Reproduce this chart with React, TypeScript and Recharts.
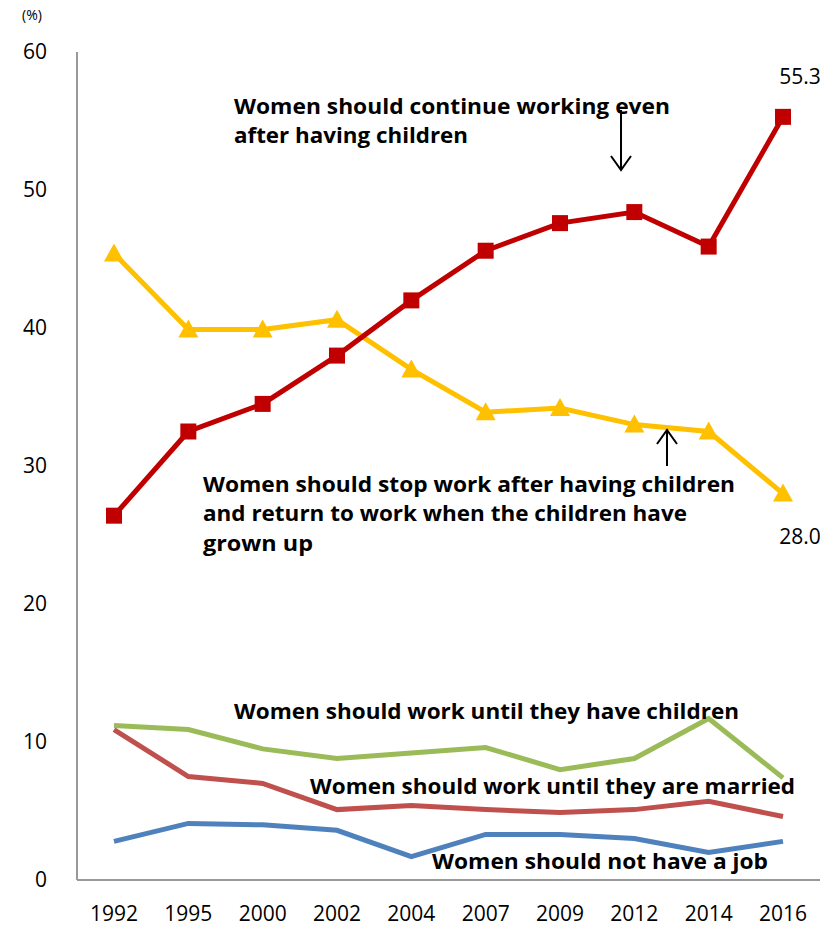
import React from "react";
import {
  LineChart,
  Line,
  XAxis,
  YAxis,
  LabelList,
} from "recharts";

const years = ["1992", "1995", "2000", "2002", "2004", "2007", "2009", "2012", "2014", "2016"];
const continueWorking = [26.4, 32.5, 34.5, 38.0, 42.0, 45.6, 47.6, 48.4, 45.9, 55.3];
const stopAndReturn = [45.4, 39.9, 39.9, 40.6, 37.0, 33.9, 34.2, 33.0, 32.5, 28.0];
const untilChildren = [11.2, 10.9, 9.5, 8.8, 9.2, 9.6, 8.0, 8.8, 11.7, 7.4];
const untilMarried = [10.9, 7.5, 7.0, 5.1, 5.4, 5.1, 4.9, 5.1, 5.7, 4.6];
const noJob = [2.8, 4.1, 4.0, 3.6, 1.7, 3.3, 3.3, 3.0, 2.0, 2.8];
const yTicks = [0, 10, 20, 30, 40, 50, 60];

const data = years.map((year, i) => ({
  year,
  cont: continueWorking[i],
  stop: stopAndReturn[i],
  children: untilChildren[i],
  married: untilMarried[i],
  nojob: noJob[i],
}));

const FONT = "'Open Sans', 'Noto Sans', sans-serif";

function Square(props: any) {
  const { cx, cy } = props;
  if (cx == null || cy == null) return null;
  return <rect x={cx - 8} y={cy - 8} width={16} height={16} fill="#C00000" />;
}

function Triangle(props: any) {
  const { cx, cy } = props;
  if (cx == null || cy == null) return null;
  return (
    <polygon
      points={`${cx},${cy - 10} ${cx + 10},${cy + 8} ${cx - 10},${cy + 8}`}
      fill="#FFC000"
    />
  );
}

function lastLabel(dy: number) {
  return (props: any) => {
    const { x, y, value, index } = props;
    if (index !== years.length - 1) return null;
    return (
      <text
        x={x + 17}
        y={y + dy}
        textAnchor="middle"
        fontSize={21}
        fill="#000"
        fontFamily={FONT}
      >
        {Number(value).toFixed(1)}
      </text>
    );
  };
}

function Note({ x, y, w, children }: { x: number; y: number; w?: number; children: string }) {
  return (
    <text
      x={x}
      y={y}
      fontSize={21}
      fontWeight="bold"
      fill="#000"
      fontFamily={FONT}
      textLength={w}
      lengthAdjust={w ? "spacingAndGlyphs" : undefined}
    >
      {children}
    </text>
  );
}

export default function App() {
  return (
    <div style={{ position: "absolute", left: 0, top: 0, width: 837, height: 925, background: "#fff" }}>
      <LineChart
        width={837}
        height={925}
        data={data}
        margin={{ top: 52, right: 17, left: 0, bottom: 0 }}
      >
        <XAxis
          dataKey="year"
          height={45}
          tickLine={false}
          axisLine={{ stroke: "#999", strokeWidth: 2 }}
          tick={{ fontSize: 21, fill: "#000", fontFamily: FONT }}
          tickMargin={20}
          interval={0}
          padding={{ left: 37, right: 37 }}
        />
        <YAxis
          width={77}
          domain={[0, 60]}
          ticks={yTicks}
          tickLine={false}
          axisLine={{ stroke: "#999", strokeWidth: 2 }}
          tick={{ fontSize: 21, fill: "#000", fontFamily: FONT }}
          tickMargin={24}
        />
        <Line
          dataKey="nojob"
          stroke="#4F81BD"
          strokeWidth={5}
          dot={false}
          isAnimationActive={false}
        />
        <Line
          dataKey="married"
          stroke="#C0504D"
          strokeWidth={5}
          dot={false}
          isAnimationActive={false}
        />
        <Line
          dataKey="children"
          stroke="#9BBB59"
          strokeWidth={5}
          dot={false}
          isAnimationActive={false}
        />
        <Line
          dataKey="stop"
          stroke="#FFC000"
          strokeWidth={5}
          dot={<Triangle />}
          isAnimationActive={false}
        >
          <LabelList dataKey="stop" content={lastLabel(50)} />
        </Line>
        <Line
          dataKey="cont"
          stroke="#C00000"
          strokeWidth={5}
          dot={<Square />}
          isAnimationActive={false}
        >
          <LabelList dataKey="cont" content={lastLabel(-33)} />
        </Line>
      </LineChart>
      <svg
        width={837}
        height={925}
        style={{ position: "absolute", left: 0, top: 0, pointerEvents: "none" }}
      >
        <text x={22} y={20} fontSize={14} fill="#000" fontFamily={FONT}>(%)</text>
        <Note x={234} y={114} w={436}>Women should continue working even</Note>
        <Note x={234} y={143} w={234}>after having children</Note>
        <g stroke="#000" strokeWidth={2} fill="none">
          <line x1={621} y1={110} x2={621} y2={170} />
          <polyline points="611,156 621,170 631,156" />
          <line x1={667} y1={466} x2={667} y2={430} />
          <polyline points="657,444 667,430 677,444" />
        </g>
        <Note x={203} y={492} w={532}>Women should stop work after having children</Note>
        <Note x={203} y={521} w={484}>and return to work when the children have</Note>
        <Note x={203} y={551} w={110}>grown up</Note>
        <Note x={234} y={719} w={505}>Women should work until they have children</Note>
        <Note x={310} y={794} w={485}>Women should work until they are married</Note>
        <Note x={432} y={869} w={336}>Women should not have a job</Note>
      </svg>
    </div>
  );
}
